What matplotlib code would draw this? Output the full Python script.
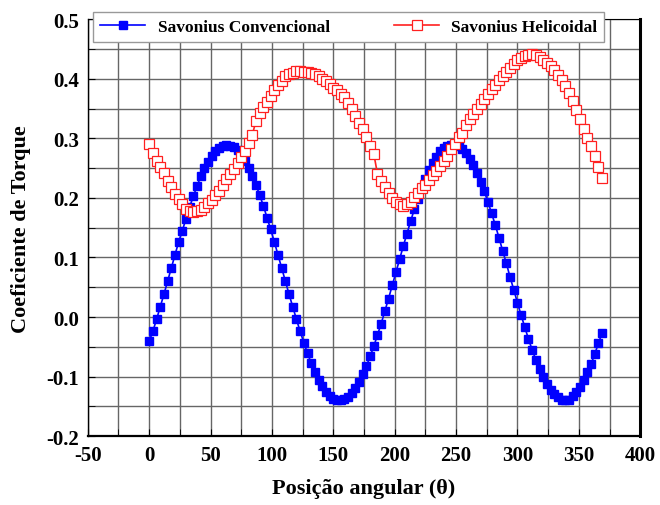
import matplotlib
matplotlib.use('Agg')
import matplotlib.pyplot as plt
from matplotlib.ticker import MultipleLocator

plt.rcParams['font.family'] = ['Liberation Serif', 'DejaVu Serif']
plt.rcParams['font.weight'] = 'bold'
plt.rcParams['axes.labelweight'] = 'bold'
plt.rcParams['axes.unicode_minus'] = False

# posicao angular (graus), passo de 3 graus
theta = [0, 3, 6, 9, 12, 15, 18, 21, 24, 27, 30, 33, 36, 39, 42, 45, 48, 51, 54, 57,
         60, 63, 66, 69, 72, 75, 78, 81, 84, 87, 90, 93, 96, 99, 102, 105, 108, 111, 114, 117,
         120, 123, 126, 129, 132, 135, 138, 141, 144, 147, 150, 153, 156, 159, 162, 165, 168, 171, 174, 177,
         180, 183, 186, 189, 192, 195, 198, 201, 204, 207, 210, 213, 216, 219, 222, 225, 228, 231, 234, 237,
         240, 243, 246, 249, 252, 255, 258, 261, 264, 267, 270, 273, 276, 279, 282, 285, 288, 291, 294, 297,
         300, 303, 306, 309, 312, 315, 318, 321, 324, 327, 330, 333, 336, 339, 342, 345, 348, 351, 354, 357,
         360, 363, 366, 369]

ct_convencional = [-0.041, -0.024, -0.004, 0.017, 0.038, 0.060, 0.082, 0.104, 0.126, 0.145,
                   0.165, 0.185, 0.203, 0.220, 0.236, 0.250, 0.261, 0.271, 0.279, 0.284,
                   0.288, 0.289, 0.288, 0.285, 0.280, 0.272, 0.262, 0.251, 0.237, 0.222,
                   0.205, 0.187, 0.167, 0.147, 0.126, 0.104, 0.082, 0.060, 0.038, 0.017,
                   -0.004, -0.024, -0.043, -0.061, -0.077, -0.092, -0.105, -0.116, -0.125, -0.132,
                   -0.137, -0.140, -0.140, -0.138, -0.134, -0.128, -0.119, -0.109, -0.096, -0.082,
                   -0.066, -0.049, -0.030, -0.011, 0.010, 0.031, 0.053, 0.075, 0.097, 0.119,
                   0.140, 0.161, 0.181, 0.199, 0.216, 0.232, 0.247, 0.259, 0.269, 0.278,
                   0.284, 0.288, 0.289, 0.289, 0.287, 0.282, 0.275, 0.266, 0.255, 0.242,
                   0.227, 0.211, 0.193, 0.174, 0.154, 0.133, 0.111, 0.090, 0.067, 0.046,
                   0.024, 0.003, -0.017, -0.037, -0.055, -0.072, -0.087, -0.101, -0.112, -0.122,
                   -0.130, -0.135, -0.139, -0.140, -0.139, -0.133, -0.126, -0.117, -0.106, -0.093,
                   -0.079, -0.062, -0.044, -0.026]

ct_helicoidal = [0.290, 0.276, 0.262, 0.252, 0.242, 0.229, 0.219, 0.207, 0.198, 0.190,
                 0.182, 0.178, 0.177, 0.178, 0.180, 0.185, 0.191, 0.197, 0.205, 0.212,
                 0.222, 0.231, 0.240, 0.249, 0.258, 0.268, 0.279, 0.292, 0.306, 0.329,
                 0.343, 0.352, 0.361, 0.371, 0.382, 0.390, 0.397, 0.404, 0.408, 0.410,
                 0.413, 0.413, 0.412, 0.411, 0.410, 0.408, 0.404, 0.399, 0.396, 0.391,
                 0.385, 0.381, 0.375, 0.369, 0.360, 0.350, 0.337, 0.326, 0.315, 0.302,
                 0.287, 0.274, 0.240, 0.229, 0.219, 0.209, 0.200, 0.194, 0.190, 0.187,
                 0.189, 0.194, 0.202, 0.209, 0.216, 0.222, 0.230, 0.239, 0.245, 0.253,
                 0.262, 0.270, 0.282, 0.291, 0.302, 0.309, 0.322, 0.333, 0.341, 0.350,
                 0.358, 0.366, 0.375, 0.383, 0.389, 0.398, 0.405, 0.411, 0.418, 0.425,
                 0.431, 0.435, 0.438, 0.440, 0.441, 0.440, 0.437, 0.432, 0.427, 0.421,
                 0.414, 0.406, 0.398, 0.388, 0.376, 0.362, 0.348, 0.332, 0.316, 0.300,
                 0.287, 0.271, 0.252, 0.233]

fig = plt.figure(figsize=(6.6, 5.06), dpi=100)
ax = fig.add_axes([0.133, 0.136, 0.837, 0.824])

ax.plot(theta, ct_convencional, '-s', color='#0000ff', lw=1.2, ms=6.3,
        mec='#0000ff', mfc='#0000ff', label='Savonius Convencional')
ax.plot(theta, ct_helicoidal, '-s', color='#ff2020', lw=1.2, ms=6.8, mew=0.9,
        mec='#ff2020', mfc='white', label='Savonius Helicoidal')

ax.set_xlim(-50, 400)
ax.set_ylim(-0.2, 0.5)
ax.xaxis.set_major_locator(MultipleLocator(50))
ax.xaxis.set_minor_locator(MultipleLocator(25))
ax.yaxis.set_major_locator(MultipleLocator(0.1))
ax.yaxis.set_minor_locator(MultipleLocator(0.05))
ax.set_yticklabels([f'{v:.1f}' for v in ax.get_yticks()])
ax.grid(True, which='both', color='#666666', lw=1.0)
ax.set_axisbelow(True)
ax.tick_params(which='both', direction='in', length=5, labelsize=15, pad=6)
ax.tick_params(which='both', right=False, top=False)

for s in ax.spines.values():
    s.set_color('black')
ax.spines['left'].set_linewidth(1.0)
ax.spines['bottom'].set_linewidth(1.6)
ax.spines['right'].set_linewidth(2.2)

ax.set_xlabel('Posição angular (θ)', fontsize=16, labelpad=10)
ax.set_ylabel('Coeficiente de Torque', fontsize=16, labelpad=11)

leg = ax.legend(loc='lower left', bbox_to_anchor=(0.01, 0.945, 0.925, 0.067), mode='expand',
                ncol=2, fontsize=12.5, frameon=True, fancybox=False, borderaxespad=0,
                handlelength=2.6, borderpad=0.4, handletextpad=0.7)
leg.get_frame().set_edgecolor('#999999')
leg.get_frame().set_linewidth(1.0)
leg.get_frame().set_alpha(1)

fig.savefig('out.png', dpi=100)
